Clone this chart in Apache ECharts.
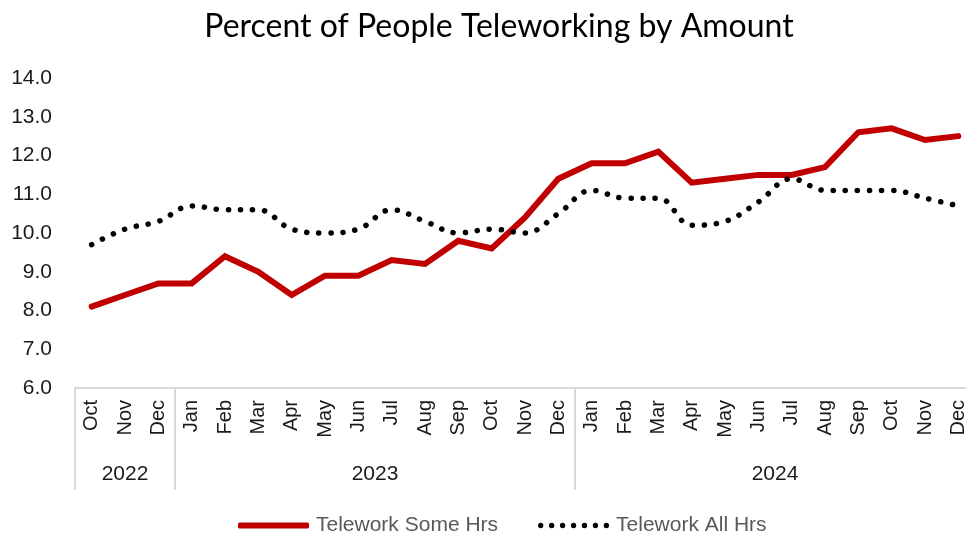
<!DOCTYPE html>
<html>
<head>
<meta charset="utf-8">
<script src="https://cdn.jsdelivr.net/npm/echarts@6/dist/echarts.min.js"></script>
<style>
  html, body { margin: 0; padding: 0; background: #fff; }
  #chart { width: 966px; height: 535px; }
</style>
</head>
<body>
<div id="chart"></div>
<script>
// Monthly categories, Oct 2022 – Dec 2024
const months = ['Oct','Nov','Dec',
  'Jan','Feb','Mar','Apr','May','Jun','Jul','Aug','Sep','Oct','Nov','Dec',
  'Jan','Feb','Mar','Apr','May','Jun','Jul','Aug','Sep','Oct','Nov','Dec'];
const years = ['2022', '2023', '2024'];
const monthsPerYear = [3, 12, 12];

// Percent of people teleworking
const someHrs = [8.1, 8.4, 8.7,
  8.7, 9.4, 9.0, 8.4, 8.9, 8.9, 9.3, 9.2, 9.8, 9.6, 10.4, 11.4,
  11.8, 11.8, 12.1, 11.3, 11.4, 11.5, 11.5, 11.7, 12.6, 12.7, 12.4, 12.5];
const allHrs = [9.7, 10.1, 10.3,
  10.7, 10.6, 10.6, 10.1, 10.0, 10.1, 10.6, 10.3, 10.0, 10.1, 10.0, 10.5,
  11.1, 10.9, 10.9, 10.2, 10.3, 10.8, 11.4, 11.1, 11.1, 11.1, 10.9, 10.7];

const yTicks = { min: 6, max: 14, step: 1 };

// Year band axis: half-month slots (boundaryGap false) so that both the
// group edges and the group centres fall exactly on slot positions.
const yearBoundary = new Set([0]);
const centreByHalf = {};
let acc = 0;
monthsPerYear.forEach((n, i) => {
  centreByHalf[2 * acc + n] = years[i];
  acc += n;
  yearBoundary.add(2 * acc);
});
const yearSlots = [];
for (let j = 0; j <= 2 * months.length; j++) {
  yearSlots.push(centreByHalf[j] || ('s' + j));
}

// Legend glyph for the dotted series: a row of round dots
function dotRowPath(count, gap, r) {
  let d = '';
  for (let k = 0; k < count; k++) {
    const cx = r + k * gap;
    d += `M${cx - r},${r}a${r},${r} 0 1,0 ${2 * r},0a${r},${r} 0 1,0 ${-2 * r},0`;
  }
  return 'path://' + d;
}

const chart = echarts.init(document.getElementById('chart'), null, { renderer: 'canvas' });

const axisColor = '#d9d9d9';
const textColor = '#1a1a1a';

chart.setOption({
  animation: false,
  backgroundColor: '#ffffff',
  title: {
    text: 'Percent of People Teleworking by Amount',
    left: 494,
    top: 6,
    textAlign: 'center',
    textStyle: { fontFamily: 'Lato', fontSize: 32, fontWeight: 'normal', color: '#000' }
  },
  legend: {
    top: 510,
    left: 233,
    itemWidth: 71,
    itemHeight: 6,
    itemGap: 40,
    textStyle: { fontFamily: 'Liberation Sans', fontSize: 21, color: '#595959', padding: [0, 0, 0, 2] },
    data: [
      { name: 'Telework Some Hrs', icon: 'roundRect', itemStyle: { color: '#c00000' } },
      { name: 'Telework All Hrs', icon: dotRowPath(7, 11.5, 2.8), itemStyle: { color: '#000000' } }
    ]
  },
  grid: { left: 75, width: 900, top: 78, bottom: 147, containLabel: false, outerBoundsMode: 'none' },
  xAxis: [
    {
      type: 'category',
      data: months,
      boundaryGap: true,
      axisLine: { show: true, lineStyle: { color: axisColor, width: 2 } },
      axisTick: { show: false },
      axisLabel: {
        interval: 0,
        rotate: 90,
        margin: 12,
        fontFamily: 'Liberation Sans',
        fontSize: 20,
        color: textColor
      },
      splitLine: { show: false }
    },
    {
      type: 'category',
      data: yearSlots,
      boundaryGap: false,
      position: 'bottom',
      axisLine: { show: false },
      axisTick: {
        show: true,
        inside: false,
        length: 102,
        interval: (idx) => yearBoundary.has(idx),
        lineStyle: { color: axisColor, width: 2 }
      },
      axisLabel: {
        interval: (idx, val) => years.indexOf(val) >= 0,
        margin: 76,
        fontFamily: 'Liberation Sans',
        fontSize: 21,
        color: textColor
      },
      splitLine: { show: false }
    }
  ],
  yAxis: {
    type: 'value',
    min: yTicks.min,
    max: yTicks.max,
    interval: yTicks.step,
    axisLine: { show: false },
    axisTick: { show: false },
    splitLine: { show: false },
    axisLabel: {
      margin: 23,
      fontFamily: 'Liberation Sans',
      fontSize: 21,
      color: textColor,
      formatter: (v) => v.toFixed(1)
    }
  },
  series: [
    {
      name: 'Telework Some Hrs',
      type: 'line',
      xAxisIndex: 0,
      data: someHrs,
      symbol: 'none',
      smooth: false,
      lineStyle: { color: '#c00000', width: 6, cap: 'round', join: 'miter' },
      itemStyle: { color: '#c00000' },
      z: 2
    },
    {
      name: 'Telework All Hrs',
      type: 'line',
      xAxisIndex: 0,
      data: allHrs,
      symbol: 'none',
      smooth: 0.4,
      lineStyle: { color: '#000000', width: 5.5, type: [0.1, 12], cap: 'round' },
      itemStyle: { color: '#000000' },
      z: 3
    }
  ]
});
</script>
</body>
</html>
